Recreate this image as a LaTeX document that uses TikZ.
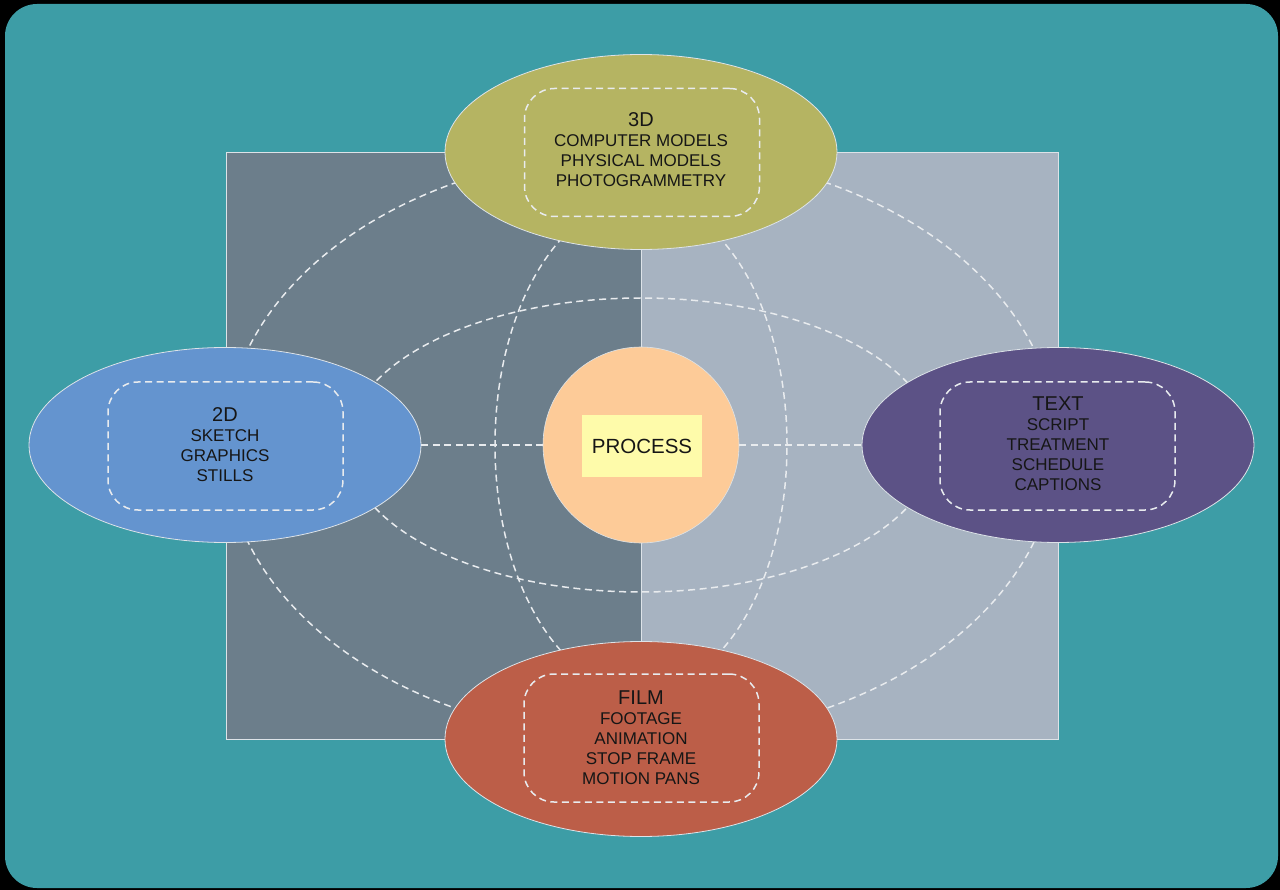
\documentclass[tikz,border=0pt]{standalone}
\usepackage{fontspec}
\setmainfont{Liberation Sans}
\usetikzlibrary{shapes.geometric}
\definecolor{bgteal}{HTML}{3D9DA6}
\definecolor{rectdark}{HTML}{6C7E8B}
\definecolor{rectlight}{HTML}{A7B3C1}
\definecolor{olive}{HTML}{B5B462}
\definecolor{blue2d}{HTML}{6494CF}
\definecolor{purpletext}{HTML}{5C5286}
\definecolor{redfilm}{HTML}{BC5E48}
\definecolor{peach}{HTML}{FDCB98}
\definecolor{paleyellow}{HTML}{FEFBAA}
\definecolor{inkdark}{HTML}{161616}
\definecolor{dashwhite}{HTML}{E8EBEE}
\definecolor{edgewhite}{HTML}{DDE3E8}
\tikzset{
  bigoval/.style={ellipse, draw=edgewhite, line width=0.8pt, minimum width=392pt, minimum height=195pt, inner sep=0pt},
  innerbox/.style={draw=dashwhite, dash pattern=on 7pt off 4.5pt, line width=1.5pt, rounded corners=30pt, minimum width=235pt, minimum height=128pt, inner sep=0pt},
  dashline/.style={draw=dashwhite, dash pattern=on 7pt off 4.5pt, line width=1.5pt},
  labeltext/.style={align=center, text=inkdark, font=\fontsize{17}{20}\selectfont, inner sep=0pt},
  halfrect/.style={draw=edgewhite, line width=0.8pt}
}
\newcommand{\ttl}[1]{{\fontsize{20}{21}\selectfont #1}}
\begin{document}
\begin{tikzpicture}[x=1pt,y=-1pt]
\useasboundingbox (0,0) rectangle (1280,890);
\fill[black] (0,0) rectangle (1280,890);
\fill[bgteal, rounded corners=32pt] (5,4) rectangle (1278,888);
% background halves
\filldraw[halfrect, fill=rectdark] (226,152) rectangle (641,739);
\filldraw[halfrect, fill=rectlight] (641,152) rectangle (1058,739);
% dashed guide ellipses
\draw[dashline] (641,445.5) ellipse [x radius=416pt, y radius=293.5pt];
\draw[dashline] (641,445) ellipse [x radius=294pt, y radius=147pt];
\draw[dashline] (641,445) ellipse [x radius=146pt, y radius=246pt];
% main ovals
\node[bigoval, fill=olive] (three) at (641,152) {};
\node[bigoval, fill=blue2d] (two) at (225,445) {};
\node[bigoval, fill=purpletext] (txt) at (1058,445) {};
\node[bigoval, fill=redfilm] (film) at (641,739) {};
% inner dashed boxes
\node[innerbox] (threebox) at (642,152.5) {};
\node[innerbox] (twobox) at (225.5,446) {};
\node[innerbox] (txtbox) at (1057.5,446) {};
\node[innerbox] (filmbox) at (641.5,738) {};
% centre
\node[circle, fill=peach, draw=edgewhite, line width=0.6pt, minimum size=196pt, inner sep=0pt] (proc) at (641,445) {};
\node[fill=paleyellow, minimum width=120pt, minimum height=62pt, inner sep=0pt, text=inkdark, font=\fontsize{20.5}{22}\selectfont] (proclabel) at (642,446) {PROCESS};
% connectors
\draw[dashline] (two.east) -- (proc.west);
\draw[dashline] (proc.east) -- (txt.west);
% labels
\node[labeltext] (threelabel) at (641,150) {\ttl{3D}\\COMPUTER MODELS\\PHYSICAL MODELS\\PHOTOGRAMMETRY};
\node[labeltext] (twolabel) at (225,445) {\ttl{2D}\\SKETCH\\GRAPHICS\\STILLS};
\node[labeltext] (txtlabel) at (1058,444) {\ttl{TEXT}\\SCRIPT\\TREATMENT\\SCHEDULE\\CAPTIONS};
\node[labeltext] (filmlabel) at (641,738) {\ttl{FILM}\\FOOTAGE\\ANIMATION\\STOP FRAME\\MOTION PANS};
\end{tikzpicture}
\end{document}
